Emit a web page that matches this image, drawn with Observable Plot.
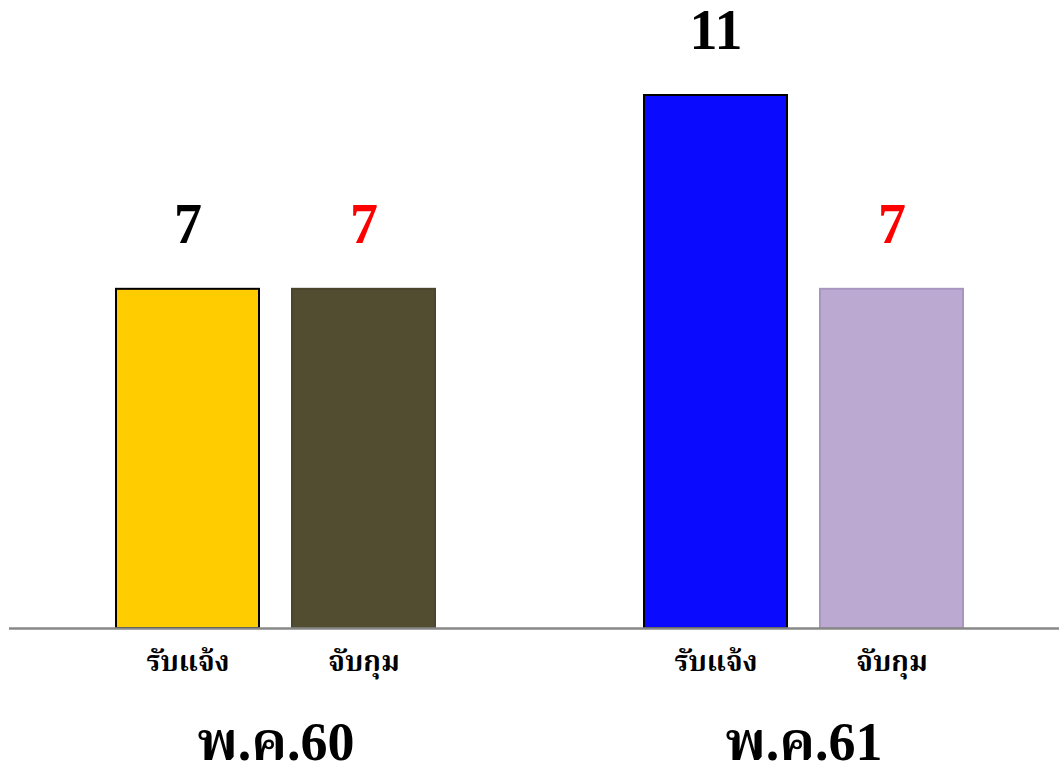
<!DOCTYPE html>
<html>
<head>
<meta charset="utf-8">
<script src="https://cdn.jsdelivr.net/npm/d3@7"></script>
<script src="https://cdn.jsdelivr.net/npm/@observablehq/plot@0.6"></script>
<style>
  html, body { margin: 0; padding: 0; background: #fff; }
  #chart svg { display: block; }
</style>
</head>
<body>
<div id="chart"></div>
<script>
// Data
const keys = ["60-รับแจ้ง", "60-จับกุม", "gap", "61-รับแจ้ง", "61-จับกุม"];
const categories = ["รับแจ้ง", "จับกุม", "", "รับแจ้ง", "จับกุม"];
const years = ["พ.ค.60", "พ.ค.61"];
const values = [7, 7, 11, 7];
const barKeys = ["60-รับแจ้ง", "60-จับกุม", "61-รับแจ้ง", "61-จับกุม"];
const barColors = ["#FFCC00", "#524C31", "#0A0AFF", "#BBA9D2"];
const barStrokes = ["#000000", "#4a452c", "#000000", "#a896c0"];
const labelColors = ["#000000", "#FF0000", "#000000", "#FF0000"];

const data = barKeys.map((k, i) => ({
  key: k, value: values[i], fill: barColors[i], stroke: barStrokes[i], labelColor: labelColors[i]
}));
const yearLabels = [{key: "60-รับแจ้ง", year: years[0]}, {key: "61-รับแจ้ง", year: years[1]}];
const catLabel = new Map(keys.map((k, i) => [k, categories[i]]));

const chart = Plot.plot({
  width: 1059,
  height: 772,
  marginLeft: 9,
  marginRight: 0,
  marginTop: 95,
  marginBottom: 144,
  x: {domain: keys, paddingInner: 0.19, paddingOuter: 0.5695, align: 0.525, axis: null},
  y: {domain: [0, 11], axis: null},
  marks: [
    Plot.barY(data, {
      x: "key", y: "value", fill: d => d.fill, stroke: d => d.stroke, strokeWidth: 2,
      style: "filter: drop-shadow(3px 2px 3px rgba(0,0,0,0.25))"
    }),
    Plot.ruleY([0], {stroke: "#888888", strokeWidth: 2.5}),
    Plot.text(data, {
      x: "key", y: "value", text: d => String(d.value), fill: d => d.labelColor,
      dy: -64, fontSize: 56, fontWeight: "bold", fontFamily: "Liberation Serif, Times New Roman, serif"
    }),
    Plot.text(barKeys, {
      x: d => d, y: 0, text: d => catLabel.get(d), dy: 34, fontSize: 28, fontWeight: "bold",
      fill: "#000", fontFamily: "Liberation Serif, 'Noto Serif Thai', serif"
    }),
    Plot.text(yearLabels, {
      x: "key", y: 0, text: "year", dx: 88, dy: 114, fontSize: 54, fontWeight: "bold",
      fill: "#000", fontFamily: "Liberation Serif, 'Noto Serif Thai', serif"
    })
  ]
});
document.getElementById("chart").append(chart);
</script>
</body>
</html>
